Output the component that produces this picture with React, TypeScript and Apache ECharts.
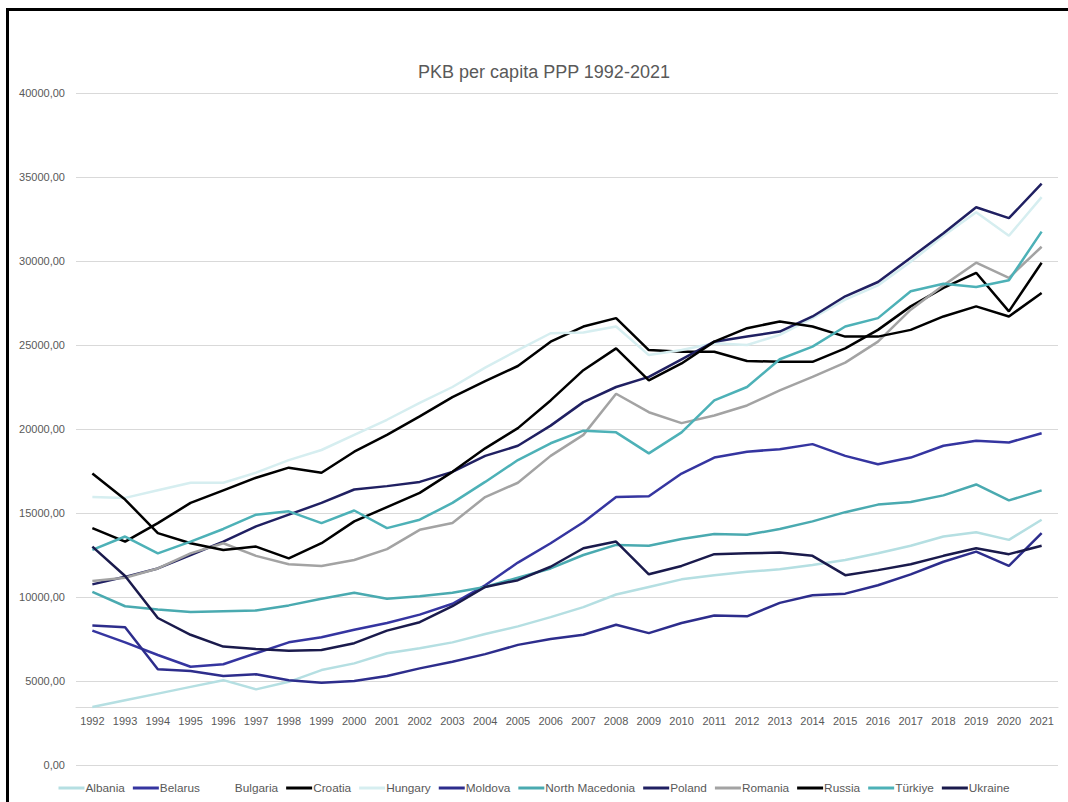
import React, { useEffect, useRef } from "react";
import * as echarts from "echarts";

const years = ["1992","1993","1994","1995","1996","1997","1998","1999","2000","2001","2002","2003","2004","2005","2006","2007","2008","2009","2010","2011","2012","2013","2014","2015","2016","2017","2018","2019","2020","2021"];

const albania = [3450,3850,4250,4650,5050,4500,4950,5650,6050,6650,6950,7300,7800,8250,8800,9400,10150,10600,11050,11300,11500,11650,11900,12200,12600,13050,13600,13850,13400,14600];
const belarus = [8000,7300,6550,5850,6000,6650,7300,7600,8050,8450,8950,9600,10700,12050,13200,14450,15950,16000,17350,18300,18650,18800,19100,18400,17900,18300,19000,19300,19200,19750];
const bulgaria: number[] = [];
const croatia = [14100,13300,14400,15600,16350,17100,17700,17400,18650,19650,20750,21900,22850,23750,25200,26100,26600,24700,24600,24600,24050,24000,24000,24800,25900,27300,28400,29300,27000,29900];
const hungary = [15950,15900,16350,16800,16800,17400,18150,18750,19650,20550,21550,22500,23650,24700,25700,25750,26100,24400,24700,25100,25000,25600,26600,27700,28550,29950,31500,32900,31500,33800];
const moldova = [8300,8200,5700,5600,5300,5400,5050,4900,5000,5300,5750,6150,6600,7150,7500,7750,8350,7850,8450,8900,8850,9650,10100,10200,10700,11350,12100,12700,11850,13800];
const northMacedonia = [10300,9450,9250,9100,9150,9200,9500,9900,10250,9900,10050,10250,10600,11150,11700,12500,13100,13050,13450,13750,13700,14050,14500,15050,15500,15650,16050,16700,15750,16350];
const poland = [10750,11200,11700,12500,13300,14200,14900,15600,16400,16600,16850,17450,18400,19000,20200,21600,22500,23100,24150,25200,25500,25800,26700,27900,28750,30200,31650,33200,32550,34600];
const romania = [10950,11150,11700,12600,13200,12450,11950,11850,12200,12850,14000,14400,15950,16800,18400,19650,22100,21000,20350,20800,21400,22300,23100,23950,25200,27100,28550,29900,29000,30850];
const russia = [17350,15800,13800,13200,12800,13000,12300,13200,14500,15350,16200,17450,18850,20050,21700,23500,24800,22900,23900,25200,26000,26400,26100,25500,25500,25900,26700,27300,26700,28100];
const turkiye = [12800,13600,12600,13300,14050,14900,15100,14400,15150,14100,14600,15600,16850,18150,19150,19900,19800,18550,19800,21700,22500,24150,24900,26100,26600,28200,28650,28450,28850,31750];
const ukraine = [13000,11250,8750,7750,7050,6900,6800,6850,7250,8000,8500,9450,10600,11000,11800,12900,13300,11350,11850,12550,12600,12650,12450,11300,11600,11950,12450,12900,12550,13050];

const seriesNames = ["Albania","Belarus","Bulgaria","Croatia","Hungary","Moldova","North Macedonia","Poland","Romania","Russia","Türkiye","Ukraine"];
const seriesData = [albania, belarus, bulgaria, croatia, hungary, moldova, northMacedonia, poland, romania, russia, turkiye, ukraine];
const seriesColors = ["#b5dfe2","#3535a0","#ffffff","#000000","#d6eef0","#2d2d8c","#4aaab0","#202062","#a3a3a3","#000000","#4db1b7","#1a1a4c"];

const FONT = "'Liberation Sans', Arial, sans-serif";

export default function App() {
  const ref = useRef<HTMLDivElement>(null);
  useEffect(() => {
    if (!ref.current) return;
    const chart = echarts.init(ref.current, undefined, { renderer: "svg" });
    chart.setOption({
      animation: false,
      backgroundColor: "#ffffff",
      textStyle: { fontFamily: FONT },
      title: {
        text: "PKB per capita PPP 1992-2021",
        left: 539,
        textAlign: "center",
        top: 58,
        textStyle: { fontSize: 18, fontWeight: "normal", color: "#595959", fontFamily: FONT },
      },
      legend: {
        bottom: 3,
        left: "center",
        icon: "rect",
        itemWidth: 26,
        itemHeight: 3,
        itemGap: 8,
        data: seriesNames,
        textStyle: { fontSize: 11.8, color: "#595959", fontFamily: FONT, padding: [0, 0, 0, -4] },
      },
      grid: { left: 76, right: 10, top: 93, bottom: 37, containLabel: false },
      xAxis: {
        type: "category",
        data: years,
        boundaryGap: true,
        offset: -58,
        axisLine: { show: true, lineStyle: { color: "#d9d9d9", width: 1 } },
        axisTick: { show: false },
        axisLabel: { color: "#595959", fontSize: 11, margin: 8, interval: 0, fontFamily: FONT },
        splitLine: { show: false },
      },
      yAxis: {
        type: "value",
        min: 0,
        max: 40000,
        interval: 5000,
        axisLine: { show: false },
        axisTick: { show: false },
        axisLabel: {
          color: "#595959",
          fontSize: 11,
          margin: 11,
          fontFamily: FONT,
          formatter: (v: number) => v.toFixed(2).replace(".", ","),
        },
        splitLine: { lineStyle: { color: "#d9d9d9", width: 1 } },
      },
      series: seriesNames.map((name, i) => ({
        name,
        type: "line",
        data: seriesData[i],
        showSymbol: false,
        symbol: "none",
        lineStyle: { color: seriesColors[i], width: 2.5 },
        itemStyle: { color: seriesColors[i] },
      })),
    });
    return () => chart.dispose();
  }, []);

  return (
    <div style={{ position: "fixed", left: 0, top: 0, width: 1068, height: 802, background: "#fff" }}>
      <div ref={ref} style={{ position: "absolute", left: 0, top: 0, width: 1068, height: 802 }} />
      <div
        style={{
          position: "absolute",
          left: 6,
          top: 8,
          width: 1100,
          height: 900,
          borderTop: "3px solid #000",
          borderLeft: "3px solid #000",
          pointerEvents: "none",
        }}
      />
    </div>
  );
}
